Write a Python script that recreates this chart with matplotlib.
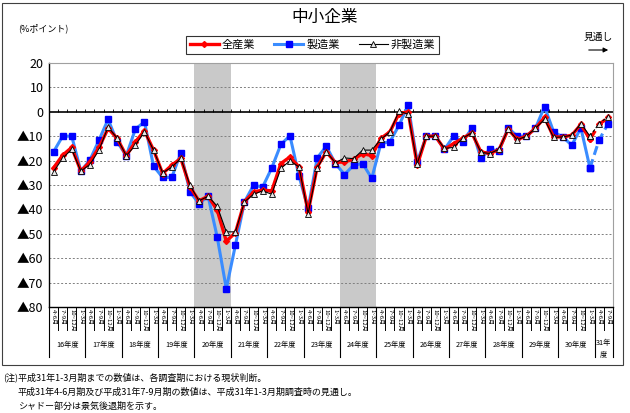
import matplotlib
matplotlib.use("Agg")
import matplotlib.pyplot as plt
from matplotlib.lines import Line2D
from matplotlib.patches import Rectangle, FancyArrowPatch
import matplotlib.transforms as mtransforms

plt.rcParams['font.family'] = ['Noto Sans CJK JP', 'DejaVu Sans']

years = ["16年度", "17年度", "18年度", "19年度", "20年度", "21年度", "22年度", "23年度",
         "24年度", "25年度", "26年度", "27年度", "28年度", "29年度", "30年度", "31年\n度"]
quarters = ["4~6月", "7~9月", "10~12月", "1~3月"]
quarters_per_year = [4] * 15 + [2]

seizo = [-16.4, -10, -10, -24.3, -19.8, -11.6, -3.1, -12.3, -18, -7.1, -4.1, -22.3,
         -26.9, -26.9, -16.8, -32.8, -37.6, -34.6, -51.3, -72.5, -54.7, -36.9, -30.1, -30.8,
         -23, -13.4, -9.8, -26.4, -39.6, -18.9, -14.1, -21.2, -25.7, -21.9, -21.2, -27.3,
         -13, -12.3, -5.5, 2.7, -20.5, -10, -10, -15.4, -10, -12.3, -6.8, -19.1,
         -15.4, -16, -6.6, -10, -10, -6.8, 2.1, -8.2, -10.3, -13.7, -6.6, -23,
         -11.6, -4.8]
zensangyo = [-23, -17.8, -14.6, -24.3, -20.5, -14.6, -6.8, -10.9, -18, -12.3, -7.8, -15.7,
             -25.3, -21.9, -19.1, -30.8, -36.5, -34.6, -40.3, -53, -49.6, -36.9, -32.8, -32.1,
             -32.4, -21.2, -18.5, -22.6, -41, -22.6, -16.4, -20.8, -20.5, -19.5, -17.1, -18,
             -10.9, -8.2, -0.7, 0, -21.9, -10, -10, -15.4, -13, -10.9, -8.6, -16.4,
             -17.1, -15.5, -7.2, -11.3, -10, -6.8, -2.3, -10.3, -10.3, -9.6, -5.2, -11.3,
             -5.2, -2.3]
hiseizo = [-24.6, -19, -15.4, -24.3, -21.6, -15.7, -6.2, -10.9, -18, -13.7, -8.2, -15.7,
           -25, -22.7, -19.1, -30.1, -36.5, -34.6, -38.7, -49.2, -49.2, -36.9, -33.8, -32.4,
           -33.8, -23.2, -20.1, -22.6, -41.7, -23.2, -16.4, -20.9, -18.9, -19.2, -15.7, -15.7,
           -11.3, -8.2, 0.3, -1, -21.2, -10, -10, -15, -14.6, -10.9, -8.6, -16.6,
           -17.1, -15.3, -7.2, -11.5, -10, -6.8, -3.1, -10.5, -10.3, -9.6, -4.8, -10,
           -4.8, -2]
shade_ranges = [(16, 19), (32, 35)]
forecast_start = 59

W, H = 630, 413
fig = plt.figure(figsize=(W / 100, H / 100), dpi=100)
ax = fig.add_axes([49 / W, 1 - 307 / H, (612.7 - 49) / W, (307 - 63) / H])

n = len(seizo)
x = list(range(n))

for a, b in shade_ranges:
    ax.axvspan(a - 0.5, b + 0.5, color='#c9c9c9', zorder=0, lw=0)

for v in range(-70, 21, 10):
    if v == 0:
        continue
    ax.axhline(v, color='#7f7f7f', lw=0.7, ls=(0, (2, 2)), zorder=1)
ax.axhline(0, color='black', lw=1.2, zorder=2)
ax.vlines([k - 0.5 for k in range(n + 1)], 0, 1.2, color='black', lw=0.6, zorder=2)

fs = forecast_start
styles = [
    (seizo, dict(color='#3a8cff', lw=2.2, marker='s', ms=4.5, mfc='#0000ff', mec='#0000ff'), 3),
    (zensangyo, dict(color='#ff0000', lw=2.4, marker='D', ms=3, mfc='#ff0000', mec='#ff0000'), 4),
    (hiseizo, dict(color='black', lw=0.8, marker='^', ms=4, mfc='#e8e8e8', mec='black', mew=0.6), 5),
]
for data, st, z in styles:
    ax.plot(x[:fs + 1], data[:fs + 1], zorder=z, **st)
    ax.plot(x[fs:], data[fs:], zorder=z, ls=(0, (3, 1.5)), **st)

ax.set_xlim(-0.5, n - 0.5)
ax.set_ylim(-80, 20)
yt = list(range(-80, 21, 10))
ax.set_yticks(yt)
ax.set_yticklabels([("▲%d" % -v) if v < 0 else str(v) for v in yt], fontsize=9)
ax.tick_params(axis='y', length=0, pad=4)
ax.set_xticks([])
for s in ['top', 'right']:
    ax.spines[s].set_color('#a0a0a0')
    ax.spines[s].set_linewidth(0.8)
ax.spines['left'].set_linewidth(1.0)
ax.spines['bottom'].set_linewidth(1.0)

# x-axis labels
trans = mtransforms.blended_transform_factory(ax.transData, ax.transAxes)
pos = 0
for yi, (ylab, nq) in enumerate(zip(years, quarters_per_year)):
    for q in range(nq):
        ax.text(pos + q, -0.008, quarters[q], rotation=270, fontsize=4.3,
                ha='center', va='top', transform=trans, clip_on=False)
    for k in range(pos, pos + nq + 1):
        ax.plot([k - 0.5, k - 0.5], [0, -0.095], color='black', lw=0.7,
                transform=trans, clip_on=False)
    ax.plot([pos - 0.5, pos - 0.5], [0, -0.205], color='black', lw=0.8,
            transform=trans, clip_on=False)
    ax.text(pos + (nq - 1) / 2, -0.157 if yi < 15 else -0.17, ylab, fontsize=5.2,
            ha='center', va='center', transform=trans, clip_on=False, linespacing=1.5)
    pos += nq
ax.plot([pos - 0.5, pos - 0.5], [0, -0.205], color='black', lw=0.8,
        transform=trans, clip_on=False)

# title and annotations
fig.text(325 / W, 1 - 17 / H, "中小企業", fontsize=12, ha='center', va='center')
fig.text(18 / W, 1 - 28 / H, "(%ポイント)", fontsize=6.5, ha='left', va='center')
fig.text(598 / W, 1 - 37 / H, "見通し", fontsize=7, ha='center', va='center')
fig.add_artist(FancyArrowPatch((586 / W, 1 - 50 / H), (611 / W, 1 - 50 / H),
               transform=fig.transFigure, arrowstyle='-|>', mutation_scale=7,
               color='black', lw=0.8))

handles = [
    Line2D([], [], color='#ff0000', lw=2.4, marker='D', ms=3, mfc='#ff0000', mec='#ff0000'),
    Line2D([], [], color='#3a8cff', lw=2.2, marker='s', ms=4.5, mfc='#0000ff', mec='#0000ff'),
    Line2D([], [], color='black', lw=0.8, marker='^', ms=4, mfc='#e8e8e8', mec='black', mew=0.6),
]
leg = fig.legend(handles, ["全産業", "製造業", "非製造業"], loc='center',
                 bbox_to_anchor=(312.5 / W, 1 - 45 / H), ncol=3, fontsize=8,
                 frameon=True, fancybox=False, edgecolor='black', handlelength=2.6,
                 columnspacing=1.7, handletextpad=0.3, borderpad=0.35)
leg.get_frame().set_linewidth(0.8)

# footnotes
fig.text(3 / W, 1 - 377 / H, "(注)平成31年1-3月期までの数値は、各調査期における現状判断。",
         fontsize=6.5, ha='left', va='center')
fig.text(18 / W, 1 - 392 / H, "平成31年4-6月期及び平成31年7-9月期の数値は、平成31年1-3月期調査時の見通し。",
         fontsize=6.5, ha='left', va='center')
fig.text(18 / W, 1 - 406 / H, "シャドー部分は景気後退期を示す。",
         fontsize=6.5, ha='left', va='center')

# outer frame
fig.add_artist(Rectangle((2 / W, 1 - 365 / H), (623 - 2) / W, (365 - 3) / H,
                         transform=fig.transFigure, fill=False, edgecolor='#404040', lw=0.8))

fig.savefig("out.png", dpi=100)
